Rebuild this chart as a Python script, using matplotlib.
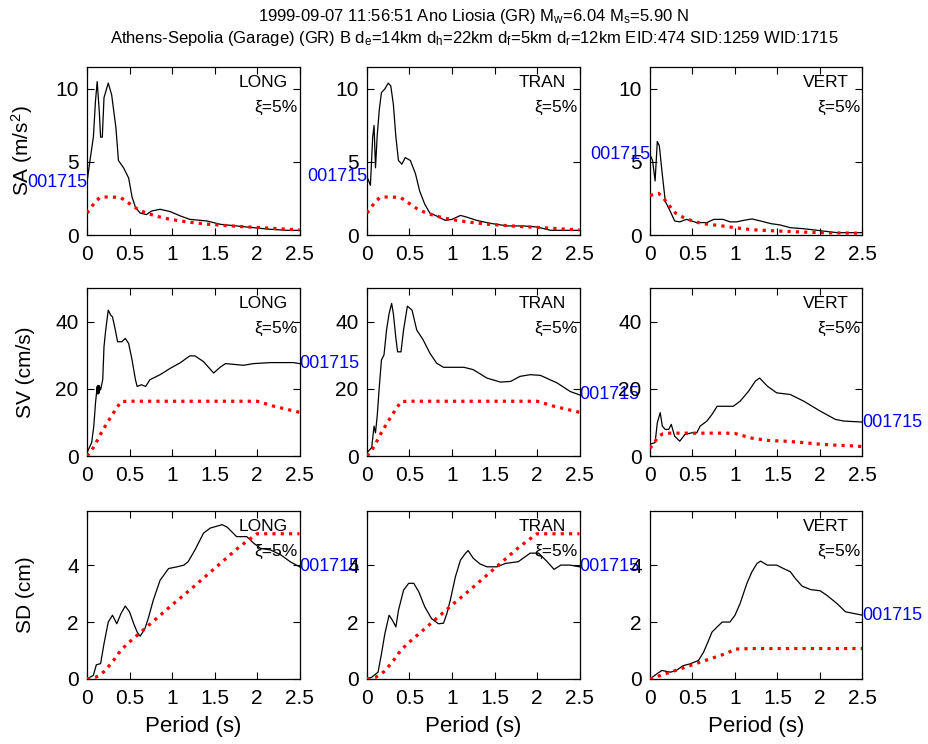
import matplotlib
matplotlib.use("Agg")
import matplotlib.pyplot as plt

plt.rcParams['font.family'] = ['Liberation Sans', 'DejaVu Sans']
plt.rcParams['mathtext.fontset'] = 'custom'
plt.rcParams['mathtext.rm'] = 'Liberation Sans'
plt.rcParams['mathtext.it'] = 'Liberation Sans:italic'
plt.rcParams['mathtext.bf'] = 'Liberation Sans:bold'

# ---------------- data ----------------
components = ['LONG', 'TRAN', 'VERT']
station_id = '001715'
title_line1 = r'1999-09-07 11:56:51 Ano Liosia (GR) M$_\mathrm{w}$=6.04 M$_\mathrm{s}$=5.90 N'
title_line2 = (r'Athens-Sepolia (Garage) (GR) B d$_\mathrm{e}$=14km d$_\mathrm{h}$=22km '
               r'd$_\mathrm{f}$=5km d$_\mathrm{r}$=12km EID:474 SID:1259 WID:1715')
row_labels = [r'SA (m/s$^\mathrm{2}$)', 'SV (cm/s)', 'SD (cm)']
row_yticks = [[0, 5, 10], [0, 20, 40], [0, 2, 4]]
row_ylim = [11.5, 50, 5.9]
xticks = [0, 0.5, 1, 1.5, 2, 2.5]
xtick_labels = ['0', '0.5', '1', '1.5', '2', '2.5']

# recorded spectra (black)
t_sa_long = [0, 0.035, 0.075, 0.10, 0.12, 0.145, 0.16, 0.18, 0.20, 0.25, 0.29, 0.34, 0.37, 0.43, 0.49,
             0.53, 0.57, 0.625, 0.70, 0.76, 0.86, 0.98, 1.10, 1.21, 1.41, 1.57, 1.76, 1.96, 2.16, 2.35, 2.5]
sa_long = [3.6, 5.1, 6.7, 9.2, 10.5, 8.4, 6.7, 6.7, 9.4, 10.4, 9.6, 7.35, 5.1, 4.6, 3.9,
           2.6, 1.9, 1.5, 1.4, 1.64, 1.76, 1.6, 1.3, 1.07, 0.96, 0.73, 0.62, 0.5, 0.39, 0.32, 0.32]

t_sa_tran = [0, 0.04, 0.067, 0.083, 0.10, 0.12, 0.145, 0.17, 0.21, 0.25, 0.28, 0.31, 0.34, 0.37, 0.41,
             0.45, 0.51, 0.57, 0.62, 0.68, 0.74, 0.82, 0.92, 1.0, 1.1, 1.17, 1.29, 1.45, 1.65, 1.84,
             2.0, 2.16, 2.5]
sa_tran = [4.0, 3.4, 6.7, 7.5, 4.6, 6.8, 8.6, 9.75, 10.0, 10.4, 10.2, 8.95, 6.7, 5.1, 4.85,
           5.3, 5.1, 4.2, 3.0, 2.1, 1.5, 1.3, 1.0, 1.07, 1.34, 1.23, 1.0, 0.8, 0.62, 0.62,
           0.55, 0.32, 0.32]

t_sa_vert = [0, 0.03, 0.06, 0.086, 0.11, 0.14, 0.18, 0.24, 0.29, 0.35, 0.43, 0.55, 0.67, 0.75, 0.86,
             0.94, 1.02, 1.1, 1.2, 1.3, 1.42, 1.53, 1.65, 1.81, 2.04, 2.2, 2.5]
sa_vert = [5.5, 5.1, 3.7, 6.4, 6.1, 4.4, 2.3, 1.6, 0.96, 0.9, 1.07, 0.85, 0.85, 1.07, 1.07,
           0.9, 0.9, 1.0, 1.1, 0.96, 0.78, 0.69, 0.5, 0.43, 0.27, 0.16, 0.16]

t_sv_long = [0, 0.055, 0.08, 0.10, 0.12, 0.125, 0.13, 0.135, 0.14, 0.145, 0.15, 0.16, 0.185, 0.20, 0.22,
             0.25, 0.28, 0.30, 0.33, 0.36, 0.41, 0.45, 0.49, 0.53, 0.57, 0.59, 0.64, 0.69, 0.74, 0.86,
             0.98, 1.10, 1.21, 1.27, 1.37, 1.49, 1.57, 1.63, 1.84, 1.96, 2.16, 2.43, 2.5]
sv_long = [1.0, 4.0, 8.9, 15.8, 20.7, 18.5, 21.0, 18.5, 21.0, 18.8, 20.5, 19.7, 22.7, 32.5, 37.5,
           43.4, 41.9, 41.4, 37.9, 34.0, 34.0, 35.0, 33.5, 28.6, 22.7, 20.7, 21.2, 20.7, 22.7, 24.2,
           26.1, 27.8, 29.8, 29.8, 28.1, 24.7, 26.5, 27.5, 27.0, 27.5, 27.8, 27.8, 27.5]

t_sv_tran = [0, 0.055, 0.083, 0.10, 0.12, 0.145, 0.17, 0.20, 0.23, 0.26, 0.29, 0.31, 0.34, 0.36, 0.40,
             0.43, 0.475, 0.53, 0.585, 0.66, 0.74, 0.82, 0.90, 1.14, 1.25, 1.41, 1.57, 1.69, 1.80,
             1.92, 2.04, 2.24, 2.39, 2.5]
sv_tran = [1.0, 2.5, 8.9, 6.9, 11.9, 20.7, 28.6, 30.1, 37.5, 42.4, 45.4, 42.4, 35.0, 31.0, 31.0,
           37.5, 44.6, 43.4, 37.5, 34.6, 30.6, 27.6, 26.4, 26.4, 25.7, 23.2, 22.0, 22.2, 23.7,
           24.2, 24.0, 21.7, 19.2, 18.2]

t_sv_vert = [0, 0.06, 0.086, 0.12, 0.145, 0.18, 0.22, 0.25, 0.29, 0.35, 0.41, 0.49, 0.55, 0.59, 0.67,
             0.73, 0.79, 0.98, 1.06, 1.16, 1.24, 1.29, 1.38, 1.49, 1.65, 1.81, 2.0, 2.18, 2.28, 2.5]
sv_vert = [3.5, 4.0, 9.9, 12.9, 8.9, 7.9, 7.9, 9.4, 5.9, 4.4, 6.4, 6.9, 6.9, 8.9, 10.4,
           12.4, 14.8, 14.8, 16.3, 19.3, 22.3, 23.2, 20.8, 18.8, 18.3, 16.3, 13.4, 10.9, 10.4, 10.1]

t_sd_long = [0, 0.075, 0.11, 0.16, 0.20, 0.25, 0.30, 0.35, 0.40, 0.45, 0.50, 0.55, 0.59, 0.625, 0.68,
             0.72, 0.78, 0.86, 0.96, 1.06, 1.14, 1.19, 1.27, 1.37, 1.45, 1.59, 1.65, 1.76, 1.88,
             1.96, 2.04, 2.16, 2.28, 2.39, 2.5]
sd_long = [0, 0.13, 0.5, 0.54, 1.24, 2.0, 2.24, 1.94, 2.3, 2.56, 2.36, 1.94, 1.65, 1.5, 1.76,
           2.12, 2.77, 3.47, 3.88, 3.94, 4.0, 4.12, 4.53, 5.12, 5.3, 5.42, 5.33, 5.0, 5.0,
           4.77, 4.59, 4.53, 4.36, 4.12, 3.94]

t_sd_tran = [0, 0.055, 0.13, 0.17, 0.21, 0.26, 0.30, 0.34, 0.37, 0.43, 0.49, 0.55, 0.61, 0.68, 0.76,
             0.84, 0.90, 0.94, 0.98, 1.04, 1.10, 1.16, 1.19, 1.25, 1.33, 1.41, 1.53, 1.63, 1.78,
             1.92, 2.02, 2.12, 2.20, 2.28, 2.39, 2.5]
sd_tran = [0, 0.06, 0.24, 0.88, 1.59, 2.24, 2.06, 1.83, 2.41, 3.12, 3.36, 3.36, 3.06, 2.53, 2.12,
           1.94, 1.96, 2.3, 2.77, 3.59, 4.18, 4.42, 4.51, 4.24, 4.04, 3.94, 3.94, 4.06, 4.12,
           4.42, 4.42, 4.12, 3.85, 4.0, 4.0, 3.94]

t_sd_vert = [0, 0.08, 0.14, 0.24, 0.31, 0.39, 0.47, 0.57, 0.63, 0.69, 0.73, 0.79, 0.85, 0.94, 1.0,
             1.06, 1.14, 1.2, 1.26, 1.3, 1.38, 1.49, 1.57, 1.65, 1.71, 1.79, 1.89, 2.0, 2.08,
             2.2, 2.3, 2.4, 2.5]
sd_vert = [0, 0.18, 0.3, 0.24, 0.3, 0.47, 0.53, 0.65, 0.94, 1.36, 1.65, 1.83, 2.0, 2.0, 2.24,
           2.65, 3.36, 3.77, 4.06, 4.14, 4.0, 4.0, 3.88, 3.77, 3.53, 3.26, 3.14, 3.1, 2.94,
           2.65, 2.36, 2.3, 2.24]

# design spectra (red dotted)
t_design = [0, 0.05, 0.1, 0.15, 0.2, 0.3, 0.4, 0.5, 0.6, 0.7, 0.8, 0.9, 1.0, 1.2, 1.4, 1.6,
            1.8, 2.0, 2.2, 2.4, 2.5]
sa_design_h = [1.5, 1.9, 2.3, 2.55, 2.6, 2.6, 2.55, 2.15, 1.75, 1.5, 1.32, 1.17, 1.05, 0.88, 0.75, 0.66,
               0.58, 0.52, 0.45, 0.38, 0.35]
sv_design_h = [0, 1.5, 3.6, 6.1, 8.3, 12.4, 16.2, 16.3, 16.3, 16.3, 16.3, 16.3, 16.3, 16.3, 16.3, 16.3,
               16.3, 16.3, 14.8, 13.6, 13.0]
sd_design_h = [0, 0.02, 0.06, 0.14, 0.26, 0.6, 1.02, 1.3, 1.56, 1.82, 2.08, 2.34, 2.6, 3.1, 3.62, 4.14,
               4.66, 5.1, 5.1, 5.1, 5.1]
sa_design_v = [2.7, 2.8, 2.85, 2.6, 2.2, 1.5, 1.18, 0.96, 0.8, 0.72, 0.66, 0.58, 0.5, 0.36, 0.3, 0.25,
               0.2, 0.16, 0.14, 0.13, 0.12]
sv_design_v = [2.3, 4.0, 5.8, 6.6, 6.8, 6.8, 6.8, 6.8, 6.8, 6.8, 6.8, 6.8, 6.7, 5.3, 4.6, 4.4,
               4.0, 3.5, 3.2, 3.0, 2.8]
sd_design_v = [0, 0.03, 0.1, 0.16, 0.2, 0.3, 0.4, 0.5, 0.6, 0.7, 0.8, 0.9, 1.05, 1.07, 1.07, 1.07,
               1.07, 1.07, 1.07, 1.07, 1.07]

records = [
    [(t_sa_long, sa_long), (t_sa_tran, sa_tran), (t_sa_vert, sa_vert)],
    [(t_sv_long, sv_long), (t_sv_tran, sv_tran), (t_sv_vert, sv_vert)],
    [(t_sd_long, sd_long), (t_sd_tran, sd_tran), (t_sd_vert, sd_vert)],
]
designs = [
    [sa_design_h, sa_design_h, sa_design_v],
    [sv_design_h, sv_design_h, sv_design_v],
    [sd_design_h, sd_design_h, sd_design_v],
]

# ---------------- layout ----------------
W, H = 929, 744
fig = plt.figure(figsize=(W / 100, H / 100), dpi=100)

col_left_px = [87, 367, 650]
col_w_px = 212.5
row_top_px = [67, 288, 511]
row_h_px = 168

for r in range(3):
    for c in range(3):
        left = col_left_px[c] / W
        bottom = 1 - (row_top_px[r] + row_h_px) / H
        ax = fig.add_axes([left, bottom, col_w_px / W, row_h_px / H])
        t_rec, v_rec = records[r][c]
        ax.plot(t_rec, v_rec, color='black', lw=0.9, zorder=2)
        ax.plot(t_design, designs[r][c], color='red', lw=2.3,
                linestyle=(0, (1, 1.6)), zorder=3)
        ax.set_xlim(0, 2.5)
        ax.set_ylim(0, row_ylim[r])
        ax.set_xticks(xticks)
        ax.set_xticklabels(xtick_labels)
        ax.set_yticks(row_yticks[r])
        ax.tick_params(direction='in', top=True, right=True, length=5, width=0.8,
                       labelsize=15)
        ax.tick_params(axis='x', pad=7)
        ax.tick_params(axis='y', pad=6)
        for s in ax.spines.values():
            s.set_linewidth(0.9)
        ax.text(0.827, 0.955, components[c], transform=ax.transAxes, ha='center', va='top',
                fontsize=12.5, zorder=1)
        ax.text(0.99, 0.76, '\u03be=5%', transform=ax.transAxes, ha='right', va='center',
                fontsize=12.5, zorder=1)
        if r == 0:
            ax.text(0, v_rec[0], station_id, ha='right', va='center', color='#0000ff',
                    fontsize=13, clip_on=False)
        else:
            ax.text(2.5, v_rec[-1], station_id, ha='left', va='center', color='#0000ff',
                    fontsize=13, clip_on=False)
        if c == 0:
            ax.set_ylabel(row_labels[r], fontsize=15)
            ax.yaxis.set_label_coords(-0.245, 0.5)
        if r == 2:
            ax.text(0.5, -0.28, 'Period (s)', transform=ax.transAxes, ha='center',
                    va='center', fontsize=16)

fig.text(474 / W, 1 - 17 / H, title_line1, ha='center', va='center', fontsize=12)
fig.text(474 / W, 1 - 39 / H, title_line2, ha='center', va='center', fontsize=12)

fig.savefig('out.png', dpi=100)
